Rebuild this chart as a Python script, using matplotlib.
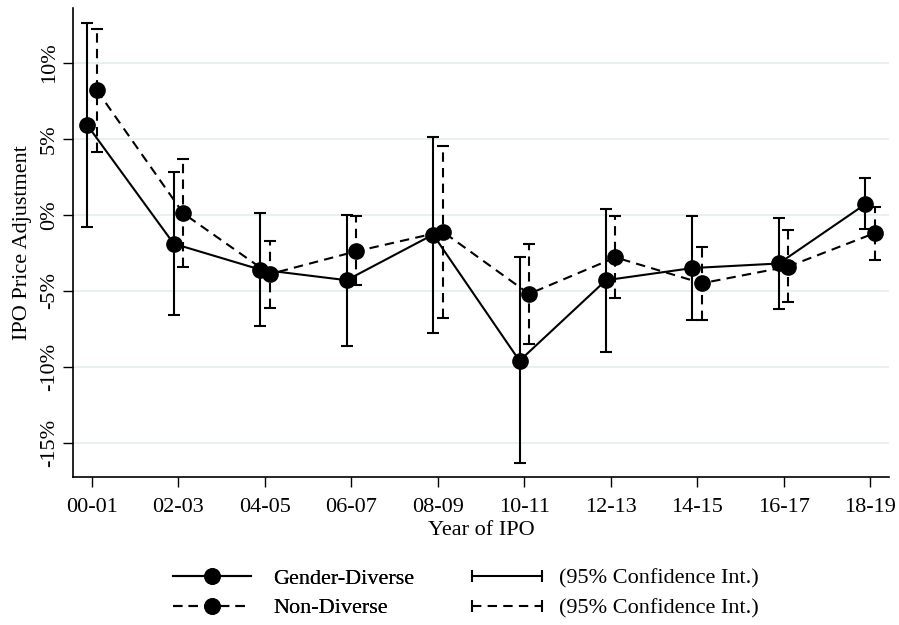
import numpy as np
import matplotlib
matplotlib.use("Agg")
import matplotlib.pyplot as plt
from matplotlib.lines import Line2D
from matplotlib.legend_handler import HandlerLine2D

plt.rcParams['font.family'] = ['Liberation Serif', 'DejaVu Serif']
plt.rcParams['axes.unicode_minus'] = False

# data (percent)
periods = ["00-01", "02-03", "04-05", "06-07", "08-09",
           "10-11", "12-13", "14-15", "16-17", "18-19"]

gd_mean = [5.9, -1.9, -3.6, -4.3, -1.3, -9.6, -4.3, -3.5, -3.2, 0.7]
gd_lo = [-0.8, -6.6, -7.3, -8.6, -7.8, -16.3, -9.0, -6.9, -6.2, -0.9]
gd_hi = [12.6, 2.8, 0.1, 0.0, 5.1, -2.8, 0.4, -0.1, -0.2, 2.4]

nd_mean = [8.2, 0.1, -3.9, -2.4, -1.1, -5.2, -2.8, -4.5, -3.4, -1.2]
nd_lo = [4.1, -3.4, -6.1, -4.6, -6.8, -8.5, -5.5, -6.9, -5.7, -3.0]
nd_hi = [12.2, 3.7, -1.7, -0.1, 4.5, -1.9, -0.1, -2.1, -1.0, 0.5]

yticks = [-15, -10, -5, 0, 5, 10]

x = np.arange(len(periods))
off = 0.055
lw = 1.5
dash = (0, (4.5, 3))

fig = plt.figure(figsize=(8.99, 6.25), dpi=100)
ax = fig.add_axes([0.0812, 0.2368, 0.9078, 0.7504])

for y in yticks:
    ax.axhline(y, color='#e6eff1', lw=1.3, zorder=0)

gd = np.array(gd_mean)
nd = np.array(nd_mean)

# confidence intervals
eb1 = ax.errorbar(x - off, gd, yerr=[gd - np.array(gd_lo), np.array(gd_hi) - gd],
                  fmt='none', ecolor='black', elinewidth=lw, capsize=4, capthick=lw, zorder=2)
eb2 = ax.errorbar(x + off, nd, yerr=[nd - np.array(nd_lo), np.array(nd_hi) - nd],
                  fmt='none', ecolor='black', elinewidth=lw, capsize=4, capthick=lw, zorder=2)
eb2[2][0].set_linestyle(dash)

ax.plot(x - off, gd, color='black', lw=lw, marker='o', ms=11, zorder=3)
ax.plot(x + off, nd, color='black', lw=lw, ls=dash, marker='o', ms=11, zorder=3)

ax.set_xlim(-0.22, 9.22)
ax.set_ylim(-17.24, 13.6)
ax.set_xticks(x)
ax.set_xticklabels(periods, fontsize=16)
ax.set_yticks(yticks)
ax.set_yticklabels([f"{v}%" for v in yticks], fontsize=16, rotation=90, va='center')
ax.tick_params(axis='x', length=7, width=1, pad=8)
ax.tick_params(axis='y', length=7, width=1, pad=3)
for s in ['top', 'right']:
    ax.spines[s].set_visible(False)
for s in ['left', 'bottom']:
    ax.spines[s].set_linewidth(1.2)

ax.set_xlabel("Year of IPO", fontsize=16, labelpad=3)
ax.set_ylabel("IPO Price Adjustment", fontsize=16, labelpad=6)

# legend
h1 = Line2D([], [], color='black', lw=lw, marker='o', ms=11)
h2 = Line2D([], [], color='black', lw=lw, ls=dash, marker='o', ms=11)
c1 = Line2D([], [], color='black', lw=lw, marker='|', ms=8, mew=lw)
c2 = Line2D([], [], color='black', lw=lw, ls=dash, marker='|', ms=8, mew=lw)

leg1 = fig.legend([h1, h2], ["Gender-Diverse", "Non-Diverse"],
                  loc='upper left', bbox_to_anchor=(173 / 899, 1 - 568 / 625),
                  frameon=False, fontsize=16, handlelength=3.5, handletextpad=1.0,
                  labelspacing=0.42, borderpad=0, borderaxespad=0,
                  handler_map={h1: HandlerLine2D(numpoints=1), h2: HandlerLine2D(numpoints=1)})
leg2 = fig.legend([c1, c2], ["(95% Confidence Int.)", "(95% Confidence Int.)"],
                  loc='upper left', bbox_to_anchor=(465 / 899, 1 - 568 / 625),
                  frameon=False, fontsize=16, handlelength=3.75, handletextpad=0.5,
                  labelspacing=0.42, borderpad=0, borderaxespad=0,
                  handler_map={c1: HandlerLine2D(numpoints=2), c2: HandlerLine2D(numpoints=2)})
fig.add_artist(leg1)

fig.savefig("out.png", dpi=100)
